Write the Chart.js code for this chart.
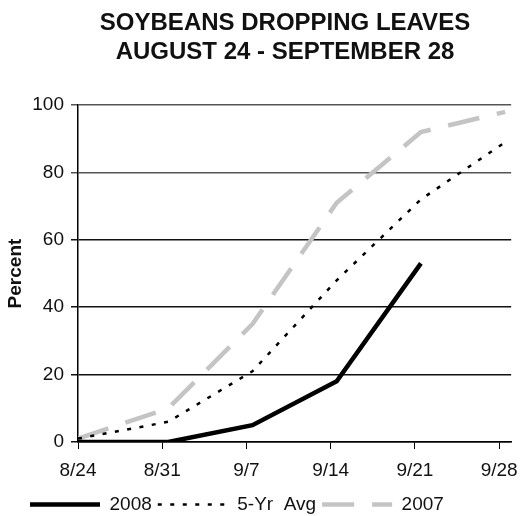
<!DOCTYPE html>
<html>
<head>
<meta charset="utf-8">
<script src="https://cdn.jsdelivr.net/npm/chart.js@4.4.0/dist/chart.umd.min.js"></script>
<style>
  html, body { margin: 0; padding: 0; background: #fff; }
  #wrap { width: 528px; height: 516px; }
</style>
</head>
<body>
<div id="wrap"><canvas id="chart"></canvas></div>
<script>
// days after 8/24 for each weekly report, and the axis tick labels
var weekDays = [0, 7.5, 14.5, 21.5, 28.5, 35.5];
var tickLabels = ['8/24', '8/31', '9/7', '9/14', '9/21', '9/28'];

var y2008 = [0, 0, 5, 18, 53];
var avg5yr = [1, 6, 21, 48, 72, 89];
var y2007 = [1, 10, 35, 71, 92, 98];

var FONT = 'Liberation Sans, Arial, sans-serif';

function pts(vals) {
	return vals.map(function (v, i) { return { x: weekDays[i], y: v }; });
}

// nudge the legend and title to where they sit in the original
var boxShift = {
	id: 'boxShift',
	afterLayout: function (chart) {
		var lg = chart.legend;
		lg.left += 20; lg.right += 20;
		lg.top += 8; lg.bottom += 8;
		var tt = chart.titleBlock;
		tt.left += 26; tt.right += 26;
	}
};

var ctx = document.getElementById('chart');
var myChart = new Chart(ctx, {
	type: 'line',
	data: {
		datasets: [
			{
				label: '2008',
				data: pts(y2008),
				borderColor: '#000',
				backgroundColor: '#000',
				borderWidth: 4.5,
				pointRadius: 0,
				tension: 0
			},
			{
				label: '5-Yr  Avg',
				data: pts(avg5yr),
				borderColor: '#000',
				backgroundColor: '#000',
				borderWidth: 2.5,
				borderDash: [4, 8.5],
				pointRadius: 0,
				tension: 0
			},
			{
				label: '2007',
				data: pts(y2007),
				borderColor: '#c4c4c4',
				backgroundColor: '#c4c4c4',
				borderWidth: 4.5,
				borderDash: [32, 18],
				pointRadius: 0,
				tension: 0
			}
		]
	},
	options: {
		responsive: true,
		maintainAspectRatio: false,
		animation: false,
		layout: { padding: { left: 4, right: 14, top: 0, bottom: 0 } },
		plugins: {
			title: {
				display: true,
				text: ['SOYBEANS DROPPING LEAVES', 'AUGUST 24 - SEPTEMBER 28'],
				color: '#111',
				font: { family: FONT, size: 24, weight: 'bold', lineHeight: 1.21 },
				padding: { top: 8.5, bottom: 38.5 }
			},
			legend: {
				position: 'bottom',
				align: 'start',
				labels: {
					usePointStyle: true,
					pointStyle: 'line',
					pointStyleWidth: 70,
					boxHeight: 10,
					padding: 6,
					color: '#111',
					font: { family: FONT, size: 19 },
					generateLabels: function (chart) {
						var items = Chart.defaults.plugins.legend.labels.generateLabels(chart);
						items.forEach(function (it) {
							var ds = chart.data.datasets[it.datasetIndex];
							it.lineWidth = ds.borderWidth;
							it.lineDash = ds.borderDash || [];
							it.strokeStyle = ds.borderColor;
						});
						return items;
					}
				}
			},
			tooltip: { enabled: false }
		},
		scales: {
			x: {
				type: 'linear',
				min: 0,
				max: 36,
				afterBuildTicks: function (scale) {
					scale.ticks = tickLabels.map(function (t, i) { return { value: i * 7 }; });
				},
				ticks: {
					callback: function (v) { return tickLabels[Math.round(v / 7)]; },
					color: '#111',
					padding: 10,
					maxRotation: 0,
					font: { family: FONT, size: 19 }
				},
				grid: { drawOnChartArea: false, color: '#000', tickLength: 7 },
				border: { color: '#000', width: 1.5 },
				afterFit: function (scale) { scale.height = 39; }
			},
			y: {
				min: 0,
				max: 100,
				ticks: {
					stepSize: 20,
					color: '#111',
					padding: 7,
					font: { family: FONT, size: 19 }
				},
				grid: {
					color: function (c) { return c.tick && c.tick.value >= 80 ? '#555' : '#111'; },
					lineWidth: 1.5,
					tickLength: 7
				},
				border: { color: '#000', width: 1.5 },
				title: {
					display: true,
					text: 'Percent',
					color: '#111',
					padding: { top: 0, bottom: 0 },
					font: { family: FONT, size: 19, weight: 'bold' }
				},
				afterFit: function (scale) { scale.width = 74; }
			}
		}
	},
	plugins: [boxShift]
});
</script>
</body>
</html>
